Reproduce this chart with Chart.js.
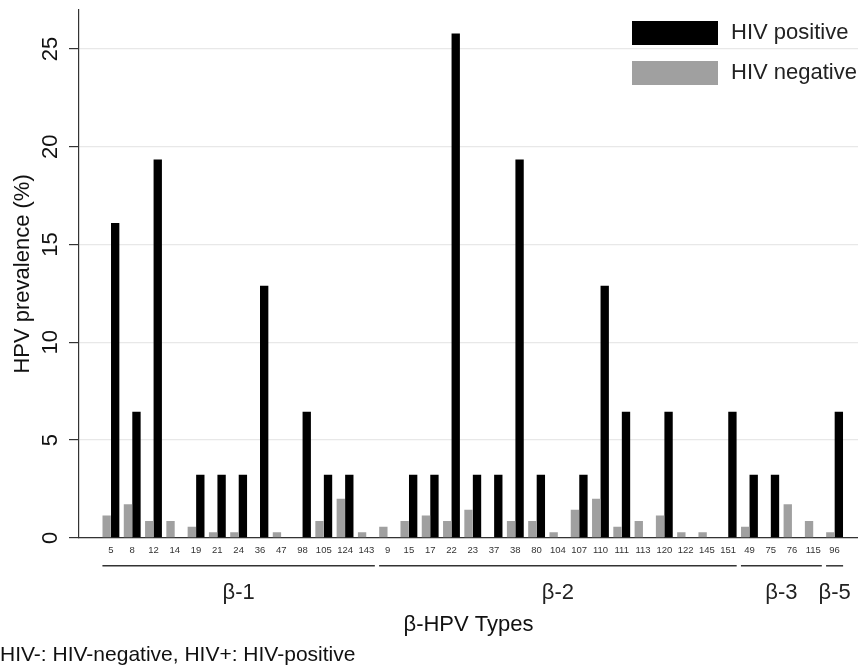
<!DOCTYPE html>
<html>
<head>
<meta charset="utf-8">
<title>beta-HPV prevalence by HIV status</title>
<script src="https://cdn.jsdelivr.net/npm/chart.js@4.4.1/dist/chart.umd.min.js"></script>
<style>
  body { margin: 0; background: #fff; }
  #wrap { width: 858px; height: 668px; }
</style>
</head>
<body>
<div id="wrap"><canvas id="chart" width="858" height="668"></canvas></div>
<script>
// HPV types along the x axis, grouped by species
const hpvTypes = ['5', '8', '12', '14', '19', '21', '24', '36', '47', '98', '105', '124', '143',
    '9', '15', '17', '22', '23', '37', '38', '80', '104', '107', '110', '111', '113', '120', '122', '145', '151',
    '49', '75', '76', '115',
    '96']

// species groups: name, first index, last index
const groupNames = ['β-1', 'β-2', 'β-3', 'β-5']
const groupStart = [0, 13, 30, 34]
const groupEnd = [12, 29, 33, 34]

// prevalence (%)
const hivPositive = [16.1, 6.45, 19.35, 0, 3.23, 3.23, 3.23, 12.9, 0, 6.45, 3.23, 3.23, 0,
    0, 3.23, 3.23, 25.8, 3.23, 3.23, 19.35, 3.23, 0, 3.23, 12.9, 6.45, 0, 6.45, 0, 0, 6.45,
    3.23, 3.23, 0, 0,
    6.45]
const hivNegative = [1.14, 1.71, 0.86, 0.86, 0.57, 0.29, 0.29, 0, 0.29, 0, 0.86, 2.0, 0.29,
    0.57, 0.86, 1.14, 0.86, 1.43, 0, 0.86, 0.86, 0.29, 1.43, 2.0, 0.57, 0.86, 1.14, 0.29, 0.29, 0,
    0.57, 0, 1.71, 0.86,
    0.29]

const yTicks = [0, 5, 10, 15, 20, 25]

const FONT = "'Liberation Sans', Arial, sans-serif"

const groupPlugin = {
    id: 'groups',
    afterDraw(chart) {
        const ctx = chart.ctx
        const x = chart.scales.x
        const area = chart.chartArea
        ctx.save()
        ctx.strokeStyle = '#333'
        ctx.lineWidth = 1.5
        ctx.fillStyle = '#222'
        ctx.font = '22px ' + FONT
        ctx.textAlign = 'center'
        ctx.textBaseline = 'middle'
        for (let i = 0; i < groupNames.length; i++) {
            const x1 = x.getPixelForValue(groupStart[i] - 0.4)
            const x2 = x.getPixelForValue(groupEnd[i] + 0.4)
            ctx.beginPath()
            ctx.moveTo(x1, area.bottom + 28)
            ctx.lineTo(x2, area.bottom + 28)
            ctx.stroke()
            ctx.fillText(groupNames[i], (x1 + x2) / 2, area.bottom + 55)
        }
        ctx.restore()
    }
}

const legendPlugin = {
    id: 'boxLegend',
    afterDraw(chart) {
        const ctx = chart.ctx
        const area = chart.chartArea
        const sets = chart.data.datasets.slice().reverse()
        ctx.save()
        ctx.font = '22px ' + FONT
        ctx.textBaseline = 'middle'
        ctx.textAlign = 'left'
        sets.forEach((ds, i) => {
            const top = area.top + 11 + i * 40
            ctx.fillStyle = ds.backgroundColor
            ctx.fillRect(area.right - 226, top, 86, 24)
            ctx.fillStyle = '#222'
            ctx.fillText(ds.label, area.right - 127, top + 12)
        })
        ctx.restore()
    }
}

const data = {
    datasets: [
        {
            label: 'HIV negative',
            data: hivNegative.map((v, i) => ({x: i, y: v})),
            backgroundColor: '#a0a0a0',
            borderWidth: 0,
            categoryPercentage: 0.8,
            barPercentage: 0.98
        },
        {
            label: 'HIV positive',
            data: hivPositive.map((v, i) => ({x: i, y: v})),
            backgroundColor: '#000000',
            borderWidth: 0,
            categoryPercentage: 0.8,
            barPercentage: 0.98
        }
    ]
}

const config = {
    type: 'bar',
    data: data,
    options: {
        responsive: false,
        animation: false,
        layout: { padding: { top: 10, right: 0, left: 0, bottom: 0 } },
        plugins: {
            legend: { display: false },
            tooltip: { enabled: false },
            title: {
                display: true,
                position: 'bottom',
                align: 'start',
                text: 'HIV-: HIV-negative, HIV+: HIV-positive',
                color: '#111',
                font: { family: FONT, size: 21, weight: 'normal' },
                padding: { top: 0, bottom: 0 }
            }
        },
        scales: {
            x: {
                type: 'linear',
                offset: false,
                min: -1.5,
                max: 35.1,
                afterBuildTicks: (scale) => {
                    scale.ticks = hpvTypes.map((t, i) => ({ value: i }))
                },
                afterFit: (scale) => {
                    scale.height = 105
                    scale.paddingLeft = 0
                    scale.paddingRight = 0
                },
                grid: { display: false, drawTicks: false },
                border: { display: true, color: '#333', width: 1.2 },
                ticks: {
                    autoSkip: false,
                    maxRotation: 0,
                    padding: 7,
                    color: '#333',
                    font: { family: FONT, size: 9.5 },
                    callback: (v) => hpvTypes[v]
                },
                title: {
                    display: true,
                    text: 'β-HPV Types',
                    color: '#111',
                    font: { family: FONT, size: 22 },
                    padding: { top: 0, bottom: 5 }
                }
            },
            y: {
                min: 0,
                max: 27,
                afterBuildTicks: (scale) => {
                    scale.ticks = yTicks.map(v => ({ value: v }))
                },
                afterFit: (scale) => {
                    scale.width = 79
                    scale.paddingTop = 0
                    scale.paddingBottom = 0
                },
                grid: { color: '#e8e8e8', tickColor: '#333', tickLength: 10, lineWidth: 1.2 },
                border: { display: true, color: '#333', width: 1.2 },
                ticks: {
                    minRotation: 90,
                    maxRotation: 90,
                    crossAlign: 'center',
                    padding: 6,
                    color: '#111',
                    font: { family: FONT, size: 22 }
                },
                title: {
                    display: true,
                    text: 'HPV prevalence (%)',
                    color: '#111',
                    font: { family: FONT, size: 22 },
                    padding: { top: 10, bottom: 0 }
                }
            }
        }
    },
    plugins: [groupPlugin, legendPlugin]
}

let ctx = document.getElementById('chart').getContext('2d')
new Chart(ctx, config)
</script>
</body>
</html>
